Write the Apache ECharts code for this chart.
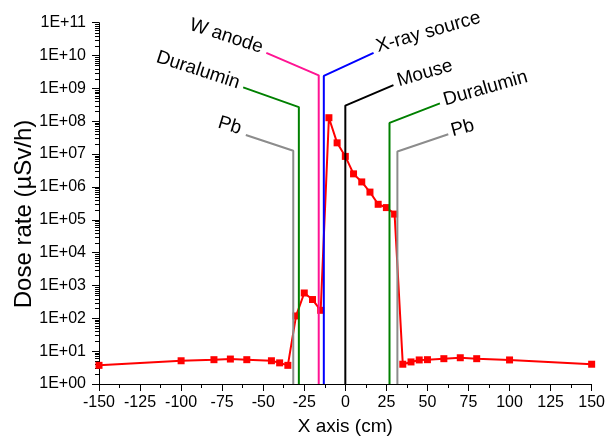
<!DOCTYPE html>
<html><head><meta charset="utf-8">
<script src="https://cdn.jsdelivr.net/npm/echarts@6/dist/echarts.min.js"></script>
<style>html,body{margin:0;padding:0;background:#fff}#c{width:608px;height:441px}</style>
</head><body><div id="c"></div>
<script>
// ---- data ----
const xPositions = [-150,-100,-80,-70,-60,-45,-40,-35,-30,-25,-20,-15,-10,-5,0,5,10,15,20,25,30,35,40,45,50,60,70,80,100,150];
const doseRates  = [3.7,5.1,5.5,5.75,5.5,5.1,4.4,3.7,118,590,373,175,1.28e8,2.2e7,8.5e6,2.5e6,1.42e6,6.96e5,2.96e5,2.35e5,1.49e5,4.0,4.7,5.4,5.5,5.9,6.3,5.9,5.4,4.0];
const yTickValues = [1,1e1,1e2,1e3,1e4,1e5,1e6,1e7,1e8,1e9,1e10,1e11];
const yTickLabels = ['1E+00','1E+01','1E+02','1E+03','1E+04','1E+05','1E+06','1E+07','1E+08','1E+09','1E+10','1E+11'];
const xTickLabels = ['-150','-125','-100','-75','-50','-25','0','25','50','75','100','125','150'];

// layer marker lines (data coordinates)
const layerNames  = ['Pb','Duralumin','W anode','X-ray source','Mouse','Duralumin','Pb'];
const layerX      = [-31.7,-28.3,-16.2,-13.1,0,26.9,31.7];
const layerTop    = [1.26e7,2.7e8,2.5e9,2.4e9,3.0e8,8.9e7,1.2e7];
const leaderEndX  = [-60.6,-62.2,-48.1,17.2,29.3,57.6,62.7];
const leaderEndY  = [3.8e7,1.07e9,1.2e10,1.2e10,1.26e9,3.5e8,4.0e7];

// ---- styles ----
const FONT = '"Liberation Sans", Arial, sans-serif';
const layerColors = ['#8c8c8c','#008000','#ff1493','#0000ff','#000000','#008000','#8c8c8c'];
const labelSide   = ['left','left','left','right','right','right','right'];
const labelAngle  = [17,18,18,16,16,16,15];
const labelOffset = [[-5,-6],[-4,-4],[-4,-5],[3,-6],[4,-4],[4,-3],[3,-3]];

const minorMult = [2,3,4,5,6,7,8,9];
const minorVals = [];
for (let k = 0; k < 11; k++) for (const m of minorMult) minorVals.push(m * Math.pow(10, k));

const chart = echarts.init(document.getElementById('c'), null, {renderer:'canvas'});

const layerSeries = layerNames.map((n, i) => ({
  type: 'line', name: n + i, z: 5, silent: true,
  symbol: 'none', animation: false,
  lineStyle: {color: layerColors[i], width: 2},
  data: [[layerX[i], 1], [layerX[i], layerTop[i]], [leaderEndX[i], leaderEndY[i]]]
}));

chart.setOption({
  animation: false,
  grid: {left: 99, right: 14, top: 22.7, bottom: 52, containLabel: false},
  xAxis: {
    type: 'value', min: -150, max: 150, interval: 25,
    axisLine: {show: true, onZero: false, lineStyle: {color: '#000', width: 1}},
    axisTick: {show: true, inside: false, length: 7, lineStyle: {color: '#000'}},
    minorTick: {show: true, splitNumber: 2, length: 4, lineStyle: {color: '#000'}},
    splitLine: {show: false},
    axisLabel: {color: '#000', fontSize: 16, fontFamily: FONT, margin: 11,
      formatter: v => xTickLabels[Math.round((v + 150) / 25)]},
    name: 'X axis (cm)', nameLocation: 'middle', nameGap: 33,
    nameTextStyle: {color: '#000', fontSize: 19, fontFamily: FONT}
  },
  yAxis: {
    type: 'log', logBase: 10, min: 1, max: 1e11, interval: 1,
    axisLine: {show: true, onZero: false, lineStyle: {color: '#000', width: 1}},
    axisTick: {show: true, inside: false, length: 7, lineStyle: {color: '#000'}, customValues: yTickValues},
    minorTick: {show: false},
    splitLine: {show: false},
    axisLabel: {color: '#000', fontSize: 16, fontFamily: FONT, margin: 13, customValues: yTickValues,
      formatter: v => {
        const i = yTickValues.findIndex(t => Math.abs(Math.log10(t) - Math.log10(v)) < 1e-6);
        return i >= 0 ? yTickLabels[i] : '';
      }}
  },
  series: [
    {
      type: 'custom', silent: true, clip: false, z: 1,
      data: minorVals.map(v => [-150, v]),
      renderItem: (params, api) => {
        const p = api.coord([api.value(0), api.value(1)]);
        const y = Math.round(p[1]) + 0.5;
        const x = Math.round(p[0]);
        return {type: 'line', shape: {x1: x - 4, y1: y, x2: x, y2: y},
          style: {stroke: '#000', lineWidth: 1}};
      }
    },
    {
      type: 'line', name: 'dose', z: 3,
      data: xPositions.map((x, i) => [x, doseRates[i]]),
      symbol: 'rect', symbolSize: 7, showAllSymbol: true,
      lineStyle: {color: '#ff0000', width: 2},
      itemStyle: {color: '#ff0000'}
    },
    ...layerSeries
  ]
});

// labels for the leader lines, anchored at the leader end points
const graphics = layerNames.map((n, i) => {
  const p = chart.convertToPixel({gridIndex: 0}, [leaderEndX[i], leaderEndY[i]]);
  const left = labelSide[i] === 'left';
  return {
    type: 'text', z: 10,
    x: p[0] + labelOffset[i][0], y: p[1] + labelOffset[i][1],
    rotation: (left ? -1 : 1) * labelAngle[i] * Math.PI / 180,
    style: {text: n, font: '19px ' + FONT, fill: '#000',
      align: left ? 'right' : 'left', verticalAlign: 'middle'}
  };
});
graphics.push({
  type: 'text', z: 10, x: 24, y: 214, rotation: Math.PI / 2,
  style: {text: 'Dose rate (\u00b5Sv/h)', font: '24px ' + FONT, fill: '#000',
    align: 'center', verticalAlign: 'middle'}
});
chart.setOption({graphic: graphics});
</script></body></html>
